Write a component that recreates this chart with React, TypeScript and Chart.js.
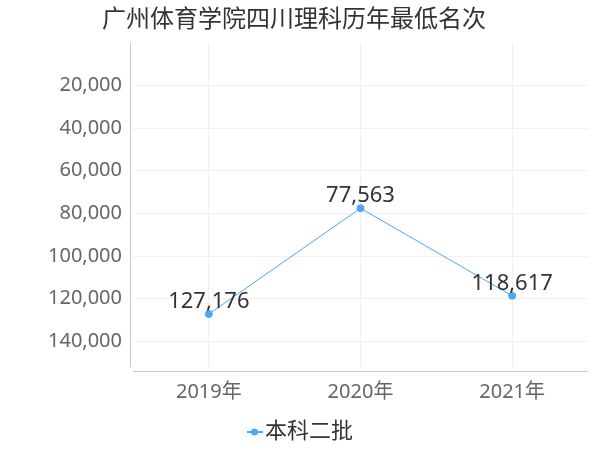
import React, { useEffect, useRef } from "react";
import { Chart, registerables } from "chart.js";

Chart.register(...registerables);

const TITLE = "广州体育学院四川理科历年最低名次";
const categories = ["2019年", "2020年", "2021年"];
const seriesName = "本科二批";
const values = [127176, 77563, 118617];
const yTicks = [20000, 40000, 60000, 80000, 100000, 120000, 140000];
const yMin = 0;
const yMax = 152000;

const FONT = "'Noto Sans', 'Noto Sans CJK SC', sans-serif";
const LINE_COLOR = "#4da6fb";

function makeMarker(): HTMLCanvasElement {
  const c = document.createElement("canvas");
  c.width = 39;
  c.height = 8;
  const ctx = c.getContext("2d")!;
  ctx.strokeStyle = LINE_COLOR;
  ctx.lineWidth = 2;
  ctx.beginPath();
  ctx.moveTo(22, 4);
  ctx.lineTo(38, 4);
  ctx.stroke();
  ctx.fillStyle = LINE_COLOR;
  ctx.beginPath();
  ctx.arc(29.5, 4, 3.5, 0, Math.PI * 2);
  ctx.fill();
  return c;
}

const axisLinesPlugin = {
  id: "axisLines",
  beforeDatasetsDraw(chart: any) {
    const { ctx, chartArea } = chart;
    ctx.save();
    ctx.strokeStyle = "#c8c8c8";
    ctx.lineWidth = 1;
    ctx.beginPath();
    const yx = Math.round(chartArea.left - 3.5) + 0.5;
    ctx.moveTo(yx, chartArea.top);
    ctx.lineTo(yx, chartArea.bottom);
    const xy = Math.round(chartArea.bottom + 5) - 0.5;
    ctx.moveTo(chartArea.left, xy);
    ctx.lineTo(chartArea.right, xy);
    ctx.stroke();
    ctx.restore();
  },
};

const labelsPlugin = {
  id: "valueLabels",
  afterDatasetsDraw(chart: any) {
    const { ctx } = chart;
    const meta = chart.getDatasetMeta(0);
    ctx.save();
    ctx.font = `22px ${FONT}`;
    ctx.fillStyle = "#333333";
    ctx.textAlign = "center";
    ctx.textBaseline = "middle";
    meta.data.forEach((el: any, i: number) => {
      ctx.fillText(values[i].toLocaleString("en-US"), el.x, el.y - 12);
    });
    ctx.restore();
  },
};

export default function App() {
  const ref = useRef<HTMLCanvasElement>(null);
  useEffect(() => {
    const chart = new Chart(ref.current!, {
      type: "line",
      data: {
        labels: categories,
        datasets: [
          {
            label: seriesName,
            data: values,
            borderColor: LINE_COLOR,
            backgroundColor: LINE_COLOR,
            borderWidth: 1,
            pointRadius: 3.5,
            pointHoverRadius: 3.5,
            tension: 0,
          },
        ],
      },
      options: {
        responsive: false,
        animation: false,
        layout: { padding: { left: 0, right: 12, top: 0, bottom: -3 } },
        plugins: {
          title: {
            display: true,
            text: TITLE,
            color: "#333333",
            font: { family: FONT, size: 24, weight: "normal" },
            padding: { top: 6, bottom: 8 },
          },
          legend: {
            position: "bottom",
            labels: {
              usePointStyle: true,
              pointStyle: makeMarker() as any,
              pointStyleWidth: 19,
              color: "#333333",
              font: { family: FONT, size: 22 },
              padding: 8,
            },
          },
          tooltip: { enabled: false },
        },
        scales: {
          x: {
            offset: true,
            border: { display: false },
            grid: { color: "#f0f0f0", drawTicks: false, offset: false },
            ticks: { color: "#666666", font: { family: FONT, size: 20 }, padding: 13 },
            afterFit: (scale: any) => {
              scale.height = 46;
            },
          },
          y: {
            reverse: true,
            min: yMin,
            max: yMax,
            border: { display: false },
            grid: { color: "#f0f0f0", drawTicks: false },
            ticks: {
              autoSkip: false,
              color: "#666666",
              font: { family: FONT, size: 20 },
              padding: 11,
              callback: (v: any) => Number(v).toLocaleString("en-US"),
            },
            afterBuildTicks: (scale: any) => {
              scale.ticks = yTicks.map((v) => ({ value: v }));
            },
            afterFit: (scale: any) => {
              scale.width = 133;
            },
          },
        },
      },
      plugins: [axisLinesPlugin, labelsPlugin],
    });
    return () => chart.destroy();
  }, []);
  return (
    <div style={{ position: "absolute", left: 0, top: 0, width: 600, height: 450, background: "#fff" }}>
      <canvas ref={ref} width={600} height={450} />
    </div>
  );
}
